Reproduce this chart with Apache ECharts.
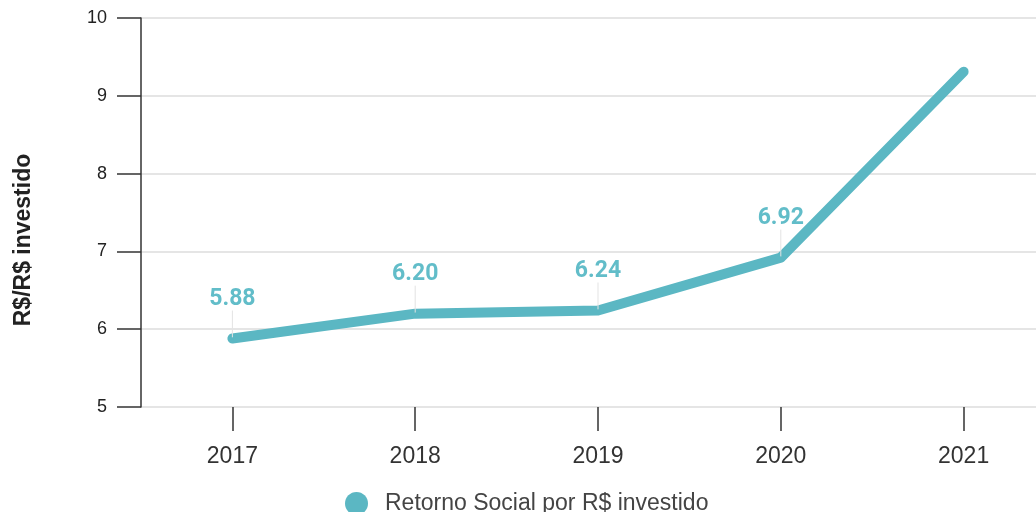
<!DOCTYPE html>
<html>
<head>
<meta charset="utf-8">
<script src="https://cdn.jsdelivr.net/npm/echarts@6/dist/echarts.min.js"></script>
<style>
  html, body { margin: 0; padding: 0; background: #ffffff; overflow: hidden; }
  #chart { width: 1056px; height: 512px; }
</style>
</head>
<body>
<div id="chart"></div>
<script>
const years = ["2017", "2018", "2019", "2020", "2021"];
const socialReturn = [5.88, 6.2, 6.24, 6.92, 9.31];
const labelledYears = ["2017", "2018", "2019", "2020"];
const seriesName = "Retorno Social por R$ investido";
const axisTitle = "R$/R$ investido";

// the plot runs a little past the right edge of the picture, as in the source
const chart = echarts.init(document.getElementById("chart"), undefined, { renderer: "canvas" });
chart.setOption({
  animation: false,
  grid: { left: 141, top: 18, width: 914, height: 389 },
  graphic: [
    {
      type: "text",
      x: 24,
      y: 240,
      rotation: Math.PI / 2,
      style: {
        text: axisTitle,
        fill: "#222",
        font: "bold 23px 'Liberation Sans'",
        align: "center",
        verticalAlign: "middle",
      },
    },
  ],
  legend: {
    left: 340,
    top: 487,
    icon: "circle",
    itemWidth: 23,
    itemHeight: 23,
    textStyle: {
      color: "#444",
      fontSize: 23,
      fontFamily: "Liberation Sans",
      padding: [0, 0, 0, 12],
    },
    data: [seriesName],
  },
  xAxis: {
    type: "category",
    data: years,
    axisLine: { show: false },
    axisTick: { show: true, alignWithLabel: true, length: 24, lineStyle: { color: "#333", width: 1.5 } },
    axisLabel: { color: "#333", fontSize: 23, margin: 38, fontFamily: "Liberation Sans" },
  },
  yAxis: {
    type: "value",
    min: 5,
    max: 10,
    interval: 1,
    axisLine: { show: true, lineStyle: { color: "#333", width: 1.5 } },
    axisTick: { show: true, length: 24, lineStyle: { color: "#333", width: 1.5 } },
    axisLabel: { color: "#222", fontSize: 18, margin: 34, fontFamily: "Liberation Sans" },
    splitLine: { lineStyle: { color: "#dcdcdc", width: 1.5 } },
  },
  series: [
    {
      name: seriesName,
      type: "line",
      data: socialReturn.map((value, index) => ({
        value,
        label: { show: labelledYears.includes(years[index]) },
      })),
      showSymbol: true,
      symbol: "circle",
      symbolSize: 2,
      itemStyle: { color: "#5bb7c3" },
      lineStyle: { color: "#5bb7c3", width: 10, cap: "round", join: "round" },
      label: {
        show: true,
        position: "top",
        distance: 4,
        color: "#62bdc9",
        fontSize: 23,
        fontWeight: "bold",
        fontFamily: "Roboto",
        formatter: (params) => params.value.toFixed(2),
      },
      labelLayout: { dy: -23 },
      labelLine: { show: true, lineStyle: { color: "#e3e3e3", width: 1 } },
    },
  ],
});
</script>
</body>
</html>
